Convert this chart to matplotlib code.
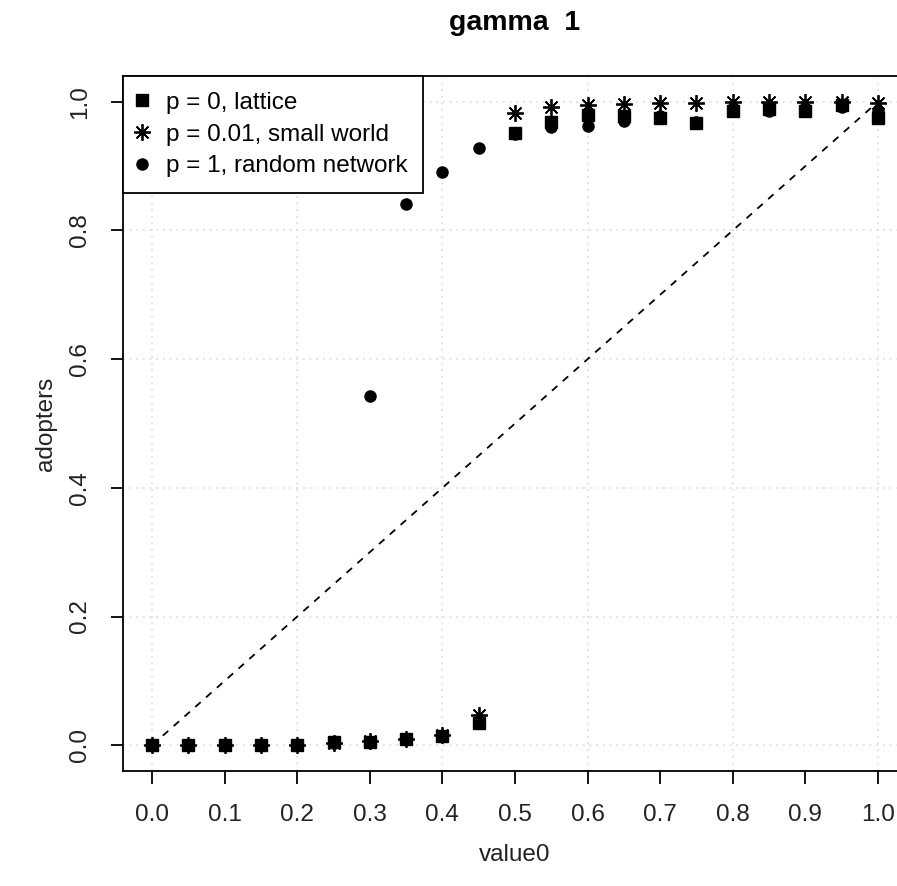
import numpy as np
import matplotlib.pyplot as plt
from matplotlib.lines import Line2D

plt.rcParams['font.family'] = ['Liberation Sans', 'DejaVu Sans']

# data
value0 = [0.0, 0.05, 0.1, 0.15, 0.2, 0.25, 0.3, 0.35, 0.4, 0.45, 0.5,
          0.55, 0.6, 0.65, 0.7, 0.75, 0.8, 0.85, 0.9, 0.95, 1.0]
lattice = [0, 0, 0, 0, 0, 0.005, 0.005, 0.009, 0.015, 0.034, 0.952,
           0.968, 0.980, 0.978, 0.975, 0.967, 0.985, 0.988, 0.986, 0.995, 0.975]
small_world = [0, 0, 0, 0, 0, 0.004, 0.006, 0.010, 0.016, 0.047, 0.983,
               0.992, 0.995, 0.996, 0.998, 0.998, 0.999, 0.999, 0.999, 1.0, 0.998]
random_net = [0, 0, 0, 0, 0, 0.003, 0.543, 0.841, 0.891, 0.928, 0.950,
              0.960, 0.963, 0.970, 0.978, 0.968, 0.990, 0.985, 0.990, 0.992, 0.985]
labels = ["p = 0, lattice", "p = 0.01, small world", "p = 1, random network"]

FS = 17.5

fig = plt.figure(figsize=(8.97, 8.86), dpi=100)
ax = fig.add_axes([123 / 897, 115 / 886, 784 / 897, 695 / 886])

ax.plot(value0, lattice, ls="none", marker="s", ms=8.5, color="black")
ax.plot(value0, small_world, ls="none", marker=(8, 2, 0), ms=12,
        mew=1.3, color="black")
ax.plot(value0, random_net, ls="none", marker="o", ms=8, color="black")

# diagonal reference line
ax.plot([0, 1], [0, 1], ls=(0, (4, 4)), lw=1.3, color="black")

ax.set_xlim(-0.04, 1.04)
ax.set_ylim(-0.04, 1.04)

# light dotted grid at 0.2 steps
for g in np.arange(0, 1.01, 0.2):
    ax.axvline(g, color="#dadada", ls=(0, (1, 3)), lw=1.2, zorder=0)
    ax.axhline(g, color="#dadada", ls=(0, (1, 3)), lw=1.2, zorder=0)

ax.set_xticks(np.arange(0, 1.01, 0.1))
ax.set_xticklabels([f"{v:.1f}" for v in np.arange(0, 1.01, 0.1)])
ax.set_yticks(np.arange(0, 1.01, 0.2))
ax.set_yticklabels([f"{v:.1f}" for v in np.arange(0, 1.01, 0.2)],
                   rotation=90, va="center")
ax.tick_params(axis="both", labelsize=FS, length=9, width=1.3,
               color="black", labelcolor="#222222")
ax.tick_params(axis="x", pad=15)
ax.tick_params(axis="y", pad=14)

for s in ax.spines.values():
    s.set_linewidth(1.3)

ax.set_xlabel("value0", fontsize=FS, labelpad=13, color="#222222")
ax.set_ylabel("adopters", fontsize=FS, labelpad=9, color="#222222")
ax.set_title("gamma  1", fontsize=20.5, fontweight="bold", pad=33)

handles = [
    Line2D([], [], ls="none", marker="s", ms=8.5, color="black"),
    Line2D([], [], ls="none", marker=(8, 2, 0), ms=12, mew=1.3, color="black"),
    Line2D([], [], ls="none", marker="o", ms=8, color="black"),
]
leg = ax.legend(handles, labels, loc="upper left", bbox_to_anchor=(0, 1),
                borderaxespad=0, fancybox=False, framealpha=1,
                edgecolor="black", fontsize=FS, handlelength=0.3,
                handletextpad=0.8, labelspacing=0.4, borderpad=0.65)
leg.get_frame().set_linewidth(1.3)

plt.savefig("out.png", dpi=100)
